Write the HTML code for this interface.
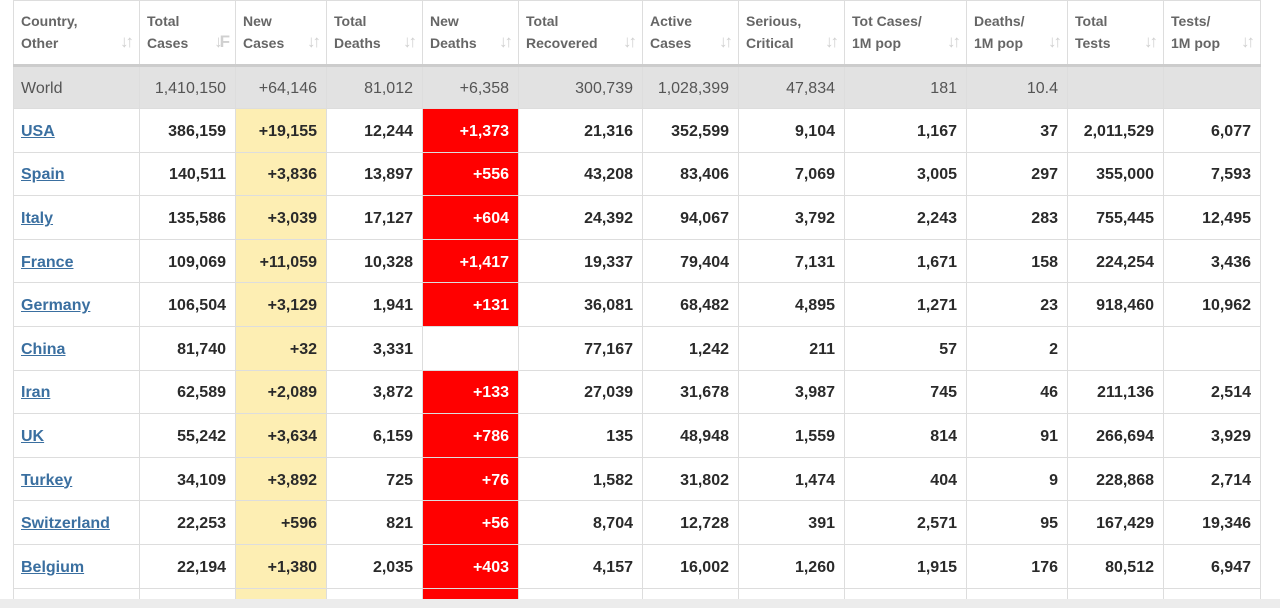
<!DOCTYPE html>
<html><head><meta charset="utf-8"><style>
body{margin:0;width:1280px;height:608px;overflow:hidden;background:#fff;font-family:"Liberation Sans",Arial,sans-serif;position:relative}
table{position:absolute;left:13px;top:0;border-collapse:collapse;table-layout:fixed;width:1247px}
td,th{border:1px solid #ddd;padding:3px 9px 0 9px;text-align:right;font-size:16px;color:#2a2a2a;font-weight:bold;white-space:nowrap;overflow:hidden}
th{height:61px;text-align:left;vertical-align:middle;font-size:14px;color:#666;line-height:22px;position:relative;border-bottom:3px solid #ccc;padding:0 7px 2px 7px}
th i{position:absolute;right:8px;top:30px;font-style:normal;color:#d0d0d0;font-size:17px;letter-spacing:-3px}
tr.w td{background:#e2e2e2;font-weight:normal;color:#555;height:38px}
tr.d td{height:39.6px}
td:first-child{text-align:left;padding-left:7px}
a{color:#3a6fa0;text-decoration:underline}
td.y{background:#fdeeb3}
td.r{background:#ff0000;color:#fff}
tr.p td{height:10px;padding:0}
.bar{position:absolute;left:0;top:599px;width:1280px;height:9px;background:#ececec}
</style></head><body>
<table>
<colgroup><col style="width:126px"><col style="width:96px"><col style="width:91px"><col style="width:96px"><col style="width:96px"><col style="width:124px"><col style="width:96px"><col style="width:106px"><col style="width:122px"><col style="width:101px"><col style="width:96px"><col style="width:97px"></colgroup>
<tr><th>Country,<br>Other<i>↓↑</i></th><th>Total<br>Cases<i>↓F</i></th><th>New<br>Cases<i>↓↑</i></th><th>Total<br>Deaths<i>↓↑</i></th><th>New<br>Deaths<i>↓↑</i></th><th>Total<br>Recovered<i>↓↑</i></th><th>Active<br>Cases<i>↓↑</i></th><th>Serious,<br>Critical<i>↓↑</i></th><th>Tot Cases/<br>1M pop<i>↓↑</i></th><th>Deaths/<br>1M pop<i>↓↑</i></th><th>Total<br>Tests<i>↓↑</i></th><th>Tests/<br>1M pop<i>↓↑</i></th></tr>
<tr class="w"><td>World</td><td>1,410,150</td><td>+64,146</td><td>81,012</td><td>+6,358</td><td>300,739</td><td>1,028,399</td><td>47,834</td><td>181</td><td>10.4</td><td></td><td></td></tr>
<tr class="d"><td><a>USA</a></td><td>386,159</td><td class="y">+19,155</td><td>12,244</td><td class="r">+1,373</td><td>21,316</td><td>352,599</td><td>9,104</td><td>1,167</td><td>37</td><td>2,011,529</td><td>6,077</td></tr>
<tr class="d"><td><a>Spain</a></td><td>140,511</td><td class="y">+3,836</td><td>13,897</td><td class="r">+556</td><td>43,208</td><td>83,406</td><td>7,069</td><td>3,005</td><td>297</td><td>355,000</td><td>7,593</td></tr>
<tr class="d"><td><a>Italy</a></td><td>135,586</td><td class="y">+3,039</td><td>17,127</td><td class="r">+604</td><td>24,392</td><td>94,067</td><td>3,792</td><td>2,243</td><td>283</td><td>755,445</td><td>12,495</td></tr>
<tr class="d"><td><a>France</a></td><td>109,069</td><td class="y">+11,059</td><td>10,328</td><td class="r">+1,417</td><td>19,337</td><td>79,404</td><td>7,131</td><td>1,671</td><td>158</td><td>224,254</td><td>3,436</td></tr>
<tr class="d"><td><a>Germany</a></td><td>106,504</td><td class="y">+3,129</td><td>1,941</td><td class="r">+131</td><td>36,081</td><td>68,482</td><td>4,895</td><td>1,271</td><td>23</td><td>918,460</td><td>10,962</td></tr>
<tr class="d"><td><a>China</a></td><td>81,740</td><td class="y">+32</td><td>3,331</td><td></td><td>77,167</td><td>1,242</td><td>211</td><td>57</td><td>2</td><td></td><td></td></tr>
<tr class="d"><td><a>Iran</a></td><td>62,589</td><td class="y">+2,089</td><td>3,872</td><td class="r">+133</td><td>27,039</td><td>31,678</td><td>3,987</td><td>745</td><td>46</td><td>211,136</td><td>2,514</td></tr>
<tr class="d"><td><a>UK</a></td><td>55,242</td><td class="y">+3,634</td><td>6,159</td><td class="r">+786</td><td>135</td><td>48,948</td><td>1,559</td><td>814</td><td>91</td><td>266,694</td><td>3,929</td></tr>
<tr class="d"><td><a>Turkey</a></td><td>34,109</td><td class="y">+3,892</td><td>725</td><td class="r">+76</td><td>1,582</td><td>31,802</td><td>1,474</td><td>404</td><td>9</td><td>228,868</td><td>2,714</td></tr>
<tr class="d"><td><a>Switzerland</a></td><td>22,253</td><td class="y">+596</td><td>821</td><td class="r">+56</td><td>8,704</td><td>12,728</td><td>391</td><td>2,571</td><td>95</td><td>167,429</td><td>19,346</td></tr>
<tr class="d"><td><a>Belgium</a></td><td>22,194</td><td class="y">+1,380</td><td>2,035</td><td class="r">+403</td><td>4,157</td><td>16,002</td><td>1,260</td><td>1,915</td><td>176</td><td>80,512</td><td>6,947</td></tr>
<tr class="p"><td></td><td></td><td class="y"></td><td></td><td class="r"></td><td></td><td></td><td></td><td></td><td></td><td></td><td></td></tr>
</table>
<div class="bar"></div>
</body></html>
